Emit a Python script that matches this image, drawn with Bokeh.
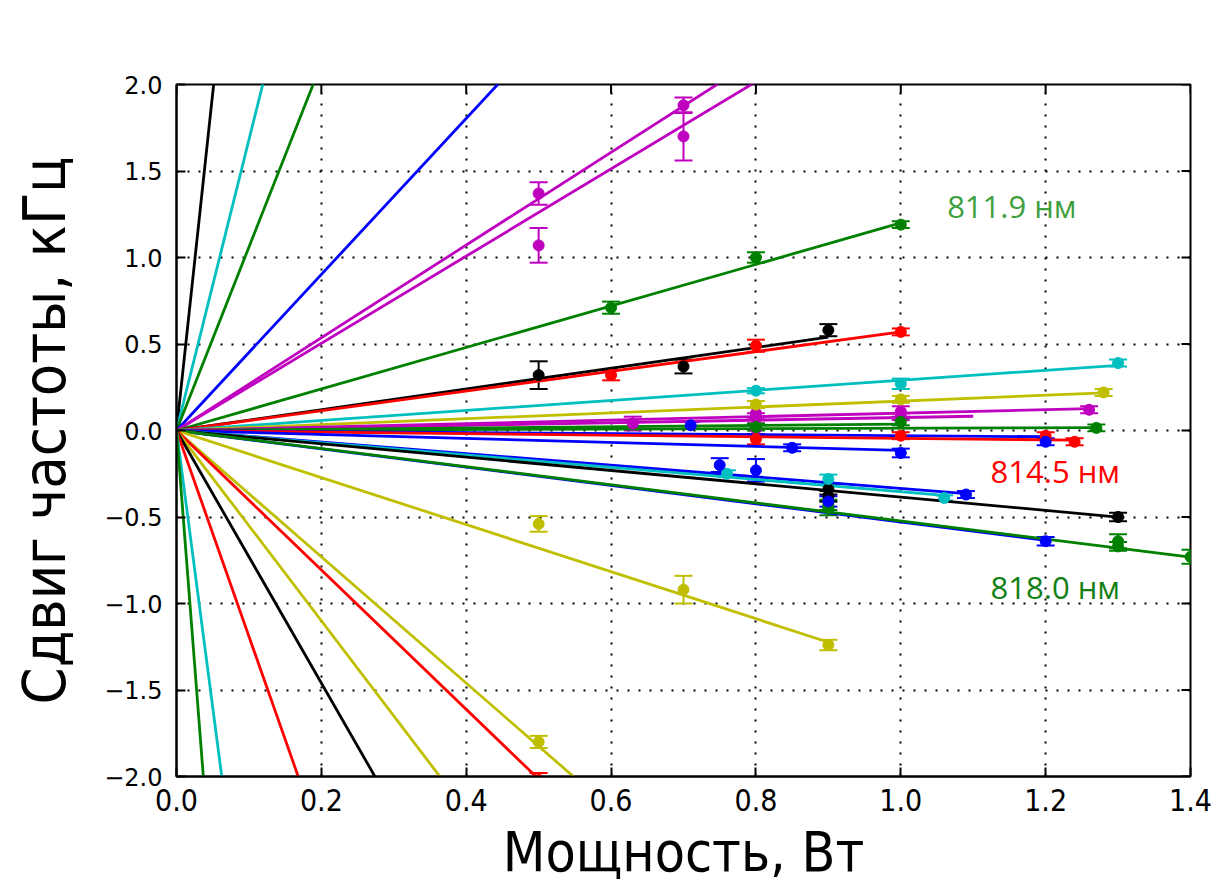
from math import pi

from bokeh.plotting import figure
from bokeh.models import (ColumnDataSource, Whisker, TeeHead, FixedTicker,
                          Label, Range1d)
from bokeh.embed import file_html
from bokeh.resources import INLINE

# Fitted light-shift lines y = slope * P, drawn from the origin to P_end
line_colors = ["k", "c", "g", "b", "m", "m", "g", "k", "r", "c", "y", "m", "m",
               "g", "g", "b", "r", "b", "b", "c", "k", "b", "g", "y", "y", "r",
               "y", "k", "r", "c", "g"]
line_slopes = [39.0, 16.8, 10.6, 4.51, 2.68, 2.52, 1.20, 0.60, 0.57, 0.29, 0.17,
               0.10, 0.075, 0.037, 0.013, -0.03, -0.045, -0.115, -0.335, -0.354,
               -0.385, -0.529, -0.523, -1.36, -3.65, -4.03, -5.5, -7.3, -11.9,
               -32.0, -54.0]
line_pend = [0.1, 0.2, 0.25, 0.5, 0.8, 0.8, 1.0, 0.9, 1.0, 1.3, 1.28, 1.26, 1.1,
             1.0, 1.27, 1.2, 1.24, 1.0, 1.09, 1.06, 1.3, 1.2, 1.4, 0.9, 0.6, 0.55,
             0.4, 0.3, 0.2, 0.1, 0.05]

# Measured shifts with error bars
pt_colors = ["m", "m", "m", "m",
             "g", "g", "g",
             "k", "k", "k",
             "r", "r", "r",
             "c", "c", "c",
             "y", "y", "y",
             "m", "m", "m", "m", "m", "m", "m",
             "g", "g", "g",
             "b", "b",
             "r", "r", "r", "r",
             "b", "b",
             "b", "b", "b",
             "c", "c", "c",
             "k", "k", "k",
             "b", "b",
             "g", "g", "g", "g", "g",
             "y", "y", "y", "y",
             "r"]
pt_x = [0.5, 0.5, 0.7, 0.7,
        0.6, 0.8, 1.0,
        0.5, 0.7, 0.9,
        0.6, 0.8, 1.0,
        0.8, 1.0, 1.3,
        0.8, 1.0, 1.28,
        0.63, 0.8, 0.8, 0.8, 1.0, 1.0, 1.26,
        0.8, 1.0, 1.27,
        0.71, 1.2,
        0.8, 1.0, 1.2, 1.24,
        0.85, 1.0,
        0.75, 0.8, 1.09,
        0.76, 0.9, 1.06,
        0.9, 0.9, 1.3,
        0.9, 1.2,
        0.9, 0.9, 1.3, 1.3, 1.4,
        0.5, 0.7, 0.9, 0.5,
        0.5]
pt_y = [1.37, 1.07, 1.88, 1.70,
        0.71, 1.00, 1.19,
        0.32, 0.37, 0.58,
        0.32, 0.49, 0.57,
        0.23, 0.27, 0.39,
        0.15, 0.18, 0.22,
        0.04, 0.10, 0.07, 0.01, 0.11, 0.08, 0.12,
        0.02, 0.05, 0.015,
        0.03, -0.065,
        -0.05, -0.03, -0.03, -0.065,
        -0.10, -0.13,
        -0.20, -0.23, -0.37,
        -0.25, -0.28, -0.39,
        -0.34, -0.38, -0.50,
        -0.41, -0.64,
        -0.43, -0.45, -0.64, -0.67, -0.73,
        -0.54, -0.92, -1.24, -1.80,
        -2.02]
pt_err = [0.065, 0.10, 0.045, 0.14,
          0.035, 0.03, 0.02,
          0.08, 0.04, 0.035,
          0.03, 0.035, 0.02,
          0.015, 0.03, 0.02,
          0.02, 0.02, 0.02,
          0.04, 0.035, 0.03, 0.03, 0.03, 0.02, 0.02,
          0.02, 0.02, 0.02,
          0.02, 0.02,
          0.03, 0.02, 0.02, 0.02,
          0.02, 0.025,
          0.04, 0.065, 0.02,
          0.02, 0.025, 0.015,
          0.03, 0.03, 0.025,
          0.03, 0.025,
          0.03, 0.04, 0.04, 0.025, 0.04,
          0.045, 0.08, 0.03, 0.035,
          0.04]

x_ticks = [0.0, 0.2, 0.4, 0.6, 0.8, 1.0, 1.2, 1.4]
x_tick_labels = ["0.0", "0.2", "0.4", "0.6", "0.8", "1.0", "1.2", "1.4"]
y_ticks = [-2.0, -1.5, -1.0, -0.5, 0.0, 0.5, 1.0, 1.5, 2.0]
y_tick_labels = ["\u22122.0", "\u22121.5", "\u22121.0", "\u22120.5", "0.0",
                 "0.5", "1.0", "1.5", "2.0"]

line_labels = ["811.9 нм", "814.5 нм", "818.0 нм"]

PALETTE = {"b": "#0000ff", "g": "#008000", "r": "#ff0000", "c": "#00bfbf",
           "m": "#bf00bf", "y": "#bfbf00", "k": "#000000"}

X_MIN, X_MAX, Y_MIN, Y_MAX = 0.0, 1.4, -2.0, 2.0

p = figure(width=1219, height=886, output_backend="svg", toolbar_location=None,
           x_range=Range1d(X_MIN, X_MAX), y_range=Range1d(Y_MIN, Y_MAX),
           min_border_left=176, min_border_right=29, min_border_top=84,
           min_border_bottom=110)
p.background_fill_color = "white"
p.border_fill_color = "white"
p.outline_line_color = "black"
p.outline_line_width = 2

# fitted lines
lines = ColumnDataSource(dict(
    x0=[0.0] * len(line_slopes), y0=[0.0] * len(line_slopes),
    x1=line_pend, y1=[s * e for s, e in zip(line_slopes, line_pend)],
    color=[PALETTE[c] for c in line_colors]))
p.segment("x0", "y0", "x1", "y1", source=lines, line_color="color",
          line_width=2.8)

# error bars and markers, one group per colour
for key in ["m", "g", "k", "r", "c", "y", "b"]:
    idx = [i for i, c in enumerate(pt_colors) if c == key]
    col = PALETTE[key]
    src = ColumnDataSource(dict(
        x=[pt_x[i] for i in idx], y=[pt_y[i] for i in idx],
        lo=[pt_y[i] - pt_err[i] for i in idx],
        hi=[pt_y[i] + pt_err[i] for i in idx]))
    w = Whisker(source=src, base="x", upper="hi", lower="lo",
                dimension="height", line_color=col, line_width=2,
                upper_head=TeeHead(size=18, line_color=col, line_width=2),
                lower_head=TeeHead(size=18, line_color=col, line_width=2))
    p.add_layout(w)
    p.scatter("x", "y", source=src, size=11, color=col)

# axes
narrow = "Liberation Sans Narrow, DejaVu Sans Condensed, Liberation Sans, sans-serif"
p.xaxis.ticker = FixedTicker(ticks=x_ticks)
p.yaxis.ticker = FixedTicker(ticks=y_ticks)
p.xaxis.major_label_overrides = dict(zip(x_ticks, x_tick_labels))
p.yaxis.major_label_overrides = dict(zip(y_ticks, y_tick_labels))
for ax in (p.xaxis[0], p.yaxis[0]):
    ax.axis_line_width = 2
    ax.axis_line_color = "black"
    ax.major_tick_in = 9
    ax.major_tick_out = 0
    ax.major_tick_line_width = 2
    ax.minor_tick_line_color = None
    ax.major_label_text_color = "black"
    ax.axis_label_text_color = "black"
    ax.axis_label_text_font_style = "normal"

p.xaxis.major_label_text_font = narrow
p.xaxis.major_label_text_font_size = "30px"
p.xaxis.major_label_standoff = 12
p.xaxis.axis_label = "Мощность, Вт"
p.xaxis.axis_label_text_font = narrow
p.xaxis.axis_label_text_font_size = "55px"
p.xaxis.axis_label_standoff = 6

p.yaxis.major_label_text_font = "DejaVu Sans"
p.yaxis.major_label_text_font_size = "24px"
p.yaxis.major_label_standoff = 14
p.yaxis.axis_label = "Сдвиг частоты, кГц"
p.yaxis.axis_label_text_font = narrow
p.yaxis.axis_label_text_font_size = "59px"
p.yaxis.axis_label_standoff = 22

# inward tick marks on the top and right edges
p.ray(x=x_ticks, y=[Y_MAX] * len(x_ticks), length=9, length_units="screen",
      angle=-pi / 2, line_color="black", line_width=2)
p.ray(x=[X_MAX] * len(y_ticks), y=y_ticks, length=9, length_units="screen",
      angle=pi, line_color="black", line_width=2)

for g, t in ((p.xgrid[0], x_ticks), (p.ygrid[0], y_ticks)):
    g.ticker = FixedTicker(ticks=t)
    g.grid_line_color = "black"
    g.grid_line_width = 2
    g.grid_line_dash = "2 9"

# wavelength annotations
label_pos = [(1.064, 1.30, "#3f9f3f"), (1.124, -0.232, "#ff0000"),
             (1.124, -0.905, "#128012")]
for text, (lx, ly, lc) in zip(line_labels, label_pos):
    p.add_layout(Label(x=lx, y=ly, text=text, text_color=lc,
                       text_font="Open Sans", text_font_size="31px",
                       text_baseline="middle"))

open("out.html", "w").write(file_html(p, INLINE))
